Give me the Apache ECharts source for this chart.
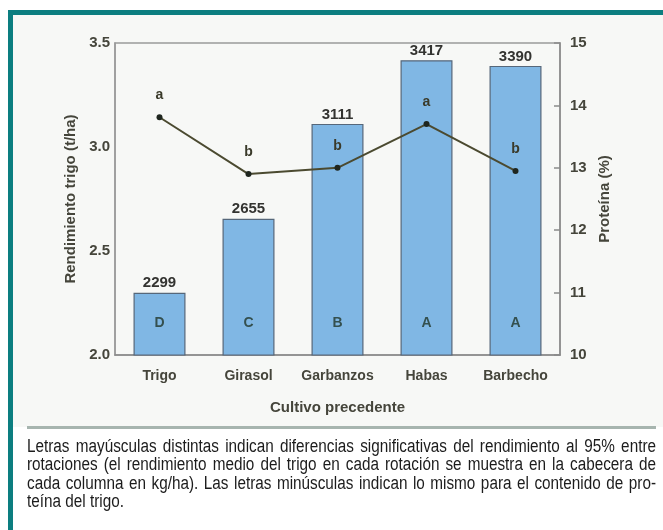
<!DOCTYPE html>
<html>
<head>
<meta charset="utf-8">
<script src="https://cdn.jsdelivr.net/npm/echarts@6/dist/echarts.min.js"></script>
<style>
  html, body { margin:0; padding:0; width:663px; height:530px; overflow:hidden; background:#ffffff; }
  .abs { position:absolute; }
  #bg { left:13px; top:15px; width:650px; height:412px; background:#f7f8f6; }
  #tealTop { left:8px; top:10px; width:655px; height:5px; background:#0c7e80; }
  #tealLeft { left:8px; top:10px; width:5px; height:520px; background:#0c7e80; }
  #sep { left:27px; top:426px; width:629px; height:2.5px; background:#a7b5af; }
  #chart { left:0; top:0; width:663px; height:530px; }
  #caption { left:27px; top:437px; width:740px; transform-origin:0 0; transform:scaleX(0.85);
    font-family:"Liberation Sans", Arial, sans-serif; font-size:18px; line-height:18.3px;
    color:#1c1c1c; }
  #caption .j { white-space:nowrap; text-align:justify; text-align-last:justify; }
  #caption .l { white-space:nowrap; text-align:left; }
</style>
</head>
<body>
<div id="bg" class="abs"></div>
<div id="tealTop" class="abs"></div>
<div id="tealLeft" class="abs"></div>
<div id="sep" class="abs"></div>
<div id="chart" class="abs"></div>
<div id="caption" class="abs">
  <div class="j">Letras mayúsculas distintas indican diferencias significativas del rendimiento al 95% entre</div>
  <div class="j">rotaciones (el rendimiento medio del trigo en cada rotación se muestra en la cabecera de</div>
  <div class="j">cada columna en kg/ha). Las letras minúsculas indican lo mismo para el contenido de pro-</div>
  <div class="l">teína del trigo.</div>
</div>
<script>
const categories = ['Trigo', 'Girasol', 'Garbanzos', 'Habas', 'Barbecho'];
const yieldKgHa = [2299, 2655, 3111, 3417, 3390];
const yieldLetters = ['D', 'C', 'B', 'A', 'A'];
const protein = [13.81, 12.90, 13.00, 13.70, 12.95];
const proteinLetters = ['a', 'b', 'b', 'a', 'b'];

const yieldTHa = yieldKgHa.map(v => v / 1000);
const FONT = '"Liberation Sans", Arial, sans-serif';
const labelColor = '#45453b';

const chart = echarts.init(document.getElementById('chart'), null, { renderer: 'canvas' });
chart.setOption({
  animation: false,
  backgroundColor: 'transparent',
  textStyle: { fontFamily: FONT },
  grid: { left: 115, top: 43, right: 103, bottom: 175, show: true, borderColor: '#9a9a9a', borderWidth: 1.5, backgroundColor: 'transparent' },
  xAxis: {
    type: 'category', data: categories,
    axisLine: { lineStyle: { color: '#8a8a8a', width: 1.5 } },
    axisTick: { show: false },
    axisLabel: { interval: 0, margin: 14, fontSize: 14, fontWeight: 'bold', color: labelColor },
    name: 'Cultivo precedente', nameLocation: 'middle', nameGap: 45,
    nameTextStyle: { fontSize: 15, fontWeight: 'bold', color: labelColor }
  },
  yAxis: [
    {
      type: 'value', min: 2, max: 3.5, interval: 0.5,
      axisLine: { show: true, lineStyle: { color: '#9a9a9a', width: 1.5 } },
      axisTick: { show: false }, splitLine: { show: false },
      axisLabel: { formatter: v => v.toFixed(1), margin: 5, fontSize: 15, fontWeight: 'bold', color: labelColor },
      name: 'Rendimiento trigo (t/ha)', nameLocation: 'middle', nameGap: 36, nameRotate: 90,
      nameTextStyle: { fontSize: 15, fontWeight: 'bold', color: labelColor }
    },
    {
      type: 'value', position: 'right', min: 10, max: 15, interval: 1,
      axisLine: { show: true, lineStyle: { color: '#8a8a8a', width: 1.5 } },
      axisTick: { show: true, inside: true, length: 6, lineStyle: { color: '#8a8a8a', width: 1.5 } },
      splitLine: { show: false },
      axisLabel: { margin: 10, fontSize: 15, fontWeight: 'bold', color: labelColor },
      name: 'Proteína (%)', nameLocation: 'middle', nameGap: 34, nameRotate: 90,
      nameTextStyle: { fontSize: 15, fontWeight: 'bold', color: labelColor }
    }
  ],
  series: [
    {
      type: 'bar', data: yieldTHa, barWidth: 52,
      itemStyle: { color: '#80b7e4', borderColor: '#56677a', borderWidth: 1.2 },
      label: { show: true, position: 'top', distance: 2, formatter: p => String(yieldKgHa[p.dataIndex]),
        fontSize: 15, fontWeight: 'bold', color: '#333330' }
    },
    {
      type: 'bar', data: yieldTHa, barWidth: 52, barGap: '-100%', silent: true,
      itemStyle: { color: 'rgba(0,0,0,0)' },
      label: { show: true, position: 'insideBottom', distance: 25, formatter: p => yieldLetters[p.dataIndex],
        fontSize: 14, fontWeight: 'bold', color: '#34504f' }
    },
    {
      type: 'line', yAxisIndex: 1, data: protein, z: 5,
      symbol: 'circle', symbolSize: 6,
      lineStyle: { color: '#4b4a30', width: 2 },
      itemStyle: { color: '#1f261f' },
      label: { show: true, position: 'top', distance: 12, formatter: p => proteinLetters[p.dataIndex],
        fontSize: 14, fontWeight: 'bold', color: '#3a3a2a' }
    }
  ]
});
</script>
</body>
</html>
